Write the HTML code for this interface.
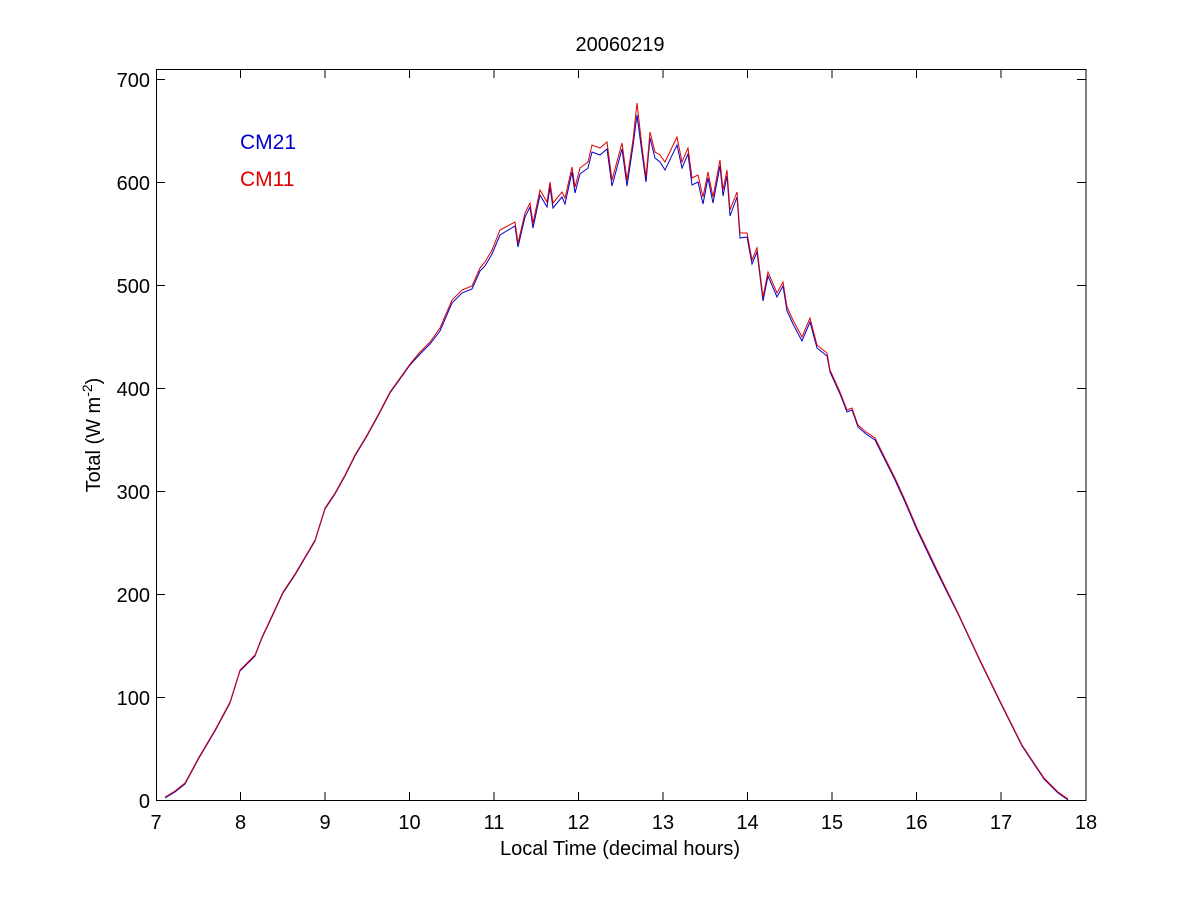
<!DOCTYPE html>
<html><head><meta charset="utf-8"><style>body{margin:0;background:#fff}</style></head><body>
<svg width="1200" height="900" xmlns="http://www.w3.org/2000/svg" font-family="Liberation Sans, Arial, sans-serif" font-size="20">
<rect width="1200" height="900" fill="#fff"/>
<rect x="156.5" y="69.5" width="929.5" height="731" fill="none" stroke="#000" stroke-width="1"/>
<g stroke="#000" stroke-width="1">
<path d="M240.5 801v-9M325 801v-9M409.5 801v-9M494 801v-9M578.5 801v-9M663 801v-9M747.5 801v-9M832 801v-9M916.5 801v-9M1001 801v-9
M240.5 69v9M325 69v9M409.5 69v9M494 69v9M578.5 69v9M663 69v9M747.5 69v9M832 69v9M916.5 69v9M1001 69v9
M156 697.5h9M156 594.5h9M156 491.5h9M156 388.5h9M156 285.5h9M156 182.5h9M156 79.5h9
M1086 697.5h-9M1086 594.5h-9M1086 491.5h-9M1086 388.5h-9M1086 285.5h-9M1086 182.5h-9M1086 79.5h-9"/>
</g>
<g text-anchor="middle">
<text x="156" y="829">7</text><text x="240.5" y="829">8</text><text x="325" y="829">9</text><text x="409.5" y="829">10</text><text x="494" y="829">11</text><text x="578.5" y="829">12</text><text x="663" y="829">13</text><text x="747.5" y="829">14</text><text x="832" y="829">15</text><text x="916.5" y="829">16</text><text x="1001" y="829">17</text><text x="1086" y="829">18</text>
</g>
<g text-anchor="end">
<text x="150" y="808">0</text><text x="150" y="705">100</text><text x="150" y="602">200</text><text x="150" y="499">300</text><text x="150" y="396">400</text><text x="150" y="293">500</text><text x="150" y="190">600</text><text x="150" y="87">700</text>
</g>
<text x="620" y="855" text-anchor="middle">Local Time (decimal hours)</text>
<text x="620" y="51" text-anchor="middle">20060219</text>
<text transform="translate(100,435) rotate(-90)" text-anchor="middle">Total (W m<tspan dy="-8" font-size="14">-2</tspan><tspan dy="8">)</tspan></text>
<text x="240" y="149" fill="#0000cc" font-size="21">CM21</text>
<text x="240" y="186" fill="#dd0000" font-size="21">CM11</text>
<polyline fill="none" stroke="#0000cc" stroke-width="1" points="165,798 175,792 185,784 199,758 215,731 230,703 240,671 255,656 262,638 270,621 283,593 295,575 305,558 315,541 325,509 335,494 345,476 355,456 367,436 378,416 390,393 400,379 410,365 420,354 430,344 440,331 452,303 462,293 472,289 480,271 485,266 492,254 500,235 515,226 518,247 525,217 530,207 533,228 540,195 547,207 550,187 553,208 562,197 565,204 572,172 575,193 580,174 588,168 592,152 600,155 607,149 612,186 622,149 627,186 633,146 637,115 642,153 646,182 650,138 655,158 660,162 665,170 677,145 682,168 688,154 692,185 698,182 703,204 708,178 713,203 720,166 723,196 727,176 730,216 737,197 740,238 747,237 752,264 757,252 763,301 768,276 777,297 783,286 787,311 793,324 802,341 810,322 817,348 827,356 830,372 840,394 847,412 852,410 858,427 866,434 875,440 885,460 895,480 905,502 917,530 938,574 959,616 980,661 1001,704 1022,746 1044,779 1058,793 1068,800"/>
<polyline fill="none" stroke="#dd0000" stroke-width="1" points="165,797 175,791 185,783 199,757 215,730 230,702 240,670 255,655 262,637 270,620 283,592 295,574 305,557 315,540 325,508 335,493 345,475 355,455 367,435 378,415 390,392 400,378 410,364 420,352 430,342 440,328 452,300 462,290 472,286 480,268 485,262 492,250 500,230 515,222 518,243 525,213 530,203 533,223 540,190 547,202 550,182 553,203 562,192 565,198 572,167 575,187 580,168 588,162 592,145 600,148 607,142 612,180 622,143 627,180 633,140 637,103 642,147 646,177 650,132 655,152 660,155 665,162 677,137 682,162 688,148 692,178 698,175 703,197 708,172 713,197 720,160 723,190 727,170 730,210 737,192 740,233 747,233 752,260 757,248 763,297 768,272 777,293 783,282 787,307 793,320 802,337 810,318 817,345 827,353 830,370 840,392 847,410 852,408 858,425 866,432 875,438 885,458 895,478 905,500 917,528 938,572 959,615 980,660 1001,703 1022,745 1044,778 1058,792 1068,799"/>
</svg>
</body></html>
